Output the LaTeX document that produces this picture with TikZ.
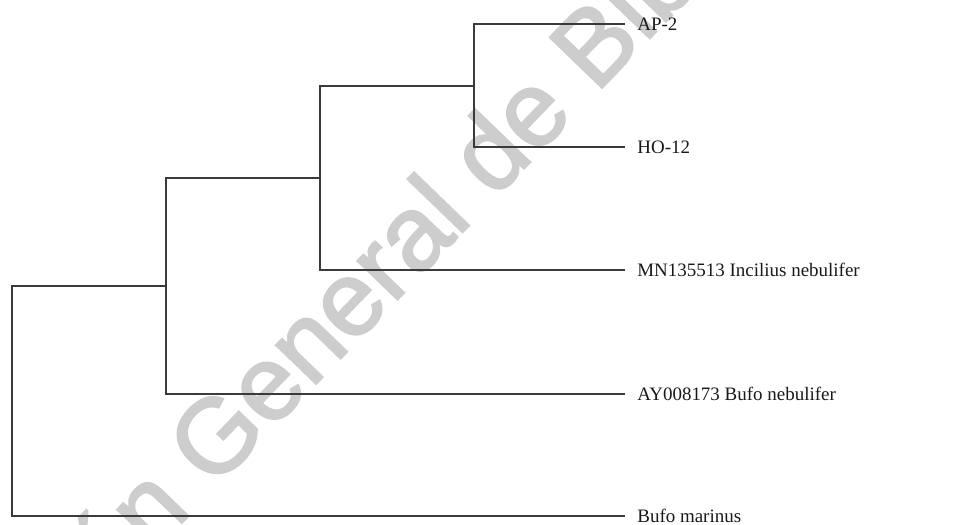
\documentclass[tikz,border=0pt]{standalone}
\usepackage{fontspec}
\setmainfont{Liberation Serif}
\newfontfamily\marcafont[FakeBold=2]{Liberation Sans}
\definecolor{branchgray}{HTML}{3A3A3A}
\definecolor{watermarkgray}{HTML}{CDCDCD}

\begin{document}
\begin{tikzpicture}[
  x=0.2mm,
  y=-0.2mm,
  line join=miter,
  branch/.style={draw=branchgray,line width=0.38mm},
  leaf/.style={anchor=base west,inner sep=0pt,xshift=2.4mm,yshift=-1.26mm,
    text=black!90,font=\fontsize{10.8pt}{13pt}\selectfont},
  watermark/.style={anchor=base west,inner sep=0pt,rotate=46,
    text=watermarkgray,font=\marcafont\fontsize{60pt}{62pt}\selectfont}
]
  \useasboundingbox (0,0) rectangle (969,525);

  % Library watermark behind the tree, cut at the page border.
  \begin{scope}
    \clip (0,0) rectangle (969,525);
    \node[watermark] (marca) at (596,94) {\llap{Dirección General de }Bibliotecas};
  \end{scope}

  % Inner nodes of the tree.
  \coordinate (root) at (12,401);
  \coordinate (cladeA) at (166,286);
  \coordinate (cladeB) at (320,178);
  \coordinate (cladeC) at (474,86);

  % Tips, all ending on the same column.
  \coordinate (tipAP) at (625,24);
  \coordinate (tipHO) at (625,147);
  \coordinate (tipMN) at (625,270);
  \coordinate (tipAY) at (625,394);
  \coordinate (tipBM) at (625,516);

  % Branches, from the crown down to the root.
  \draw[branch] (tipAP) -| (cladeC) |- (tipHO);
  \draw[branch] (cladeC) -| (cladeB) |- (tipMN);
  \draw[branch] (cladeB) -| (cladeA) |- (tipAY);
  \draw[branch] (cladeA) -| (root) |- (tipBM);

  % Sequence names.
  \node[leaf] (labAP) at (tipAP) {AP-2};
  \node[leaf] (labHO) at (tipHO) {HO-12};
  \node[leaf] (labMN) at (tipMN) {MN135513 Incilius nebulifer};
  \node[leaf] (labAY) at (tipAY) {AY008173 Bufo nebulifer};
  \node[leaf] (labBM) at (tipBM) {Bufo marinus};
\end{tikzpicture}
\end{document}
